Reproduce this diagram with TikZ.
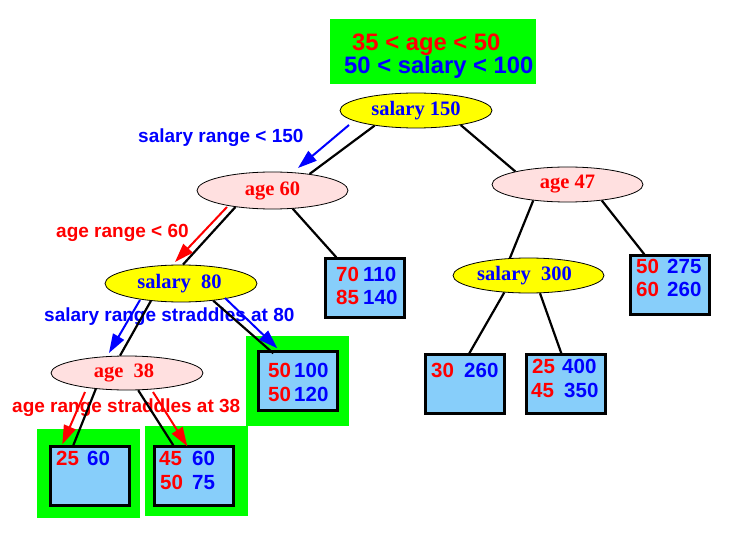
\documentclass[tikz,border=0pt]{standalone}
\usepackage{fontspec}
\setmainfont{Liberation Serif}
\setsansfont{Liberation Sans}
\usetikzlibrary{arrows.meta,shapes.geometric,calc}
\definecolor{hlgreen}{RGB}{0,255,0}
\definecolor{nodeyellow}{RGB}{255,255,0}
\definecolor{nodepink}{RGB}{255,224,224}
\definecolor{leafblue}{RGB}{135,206,250}
\definecolor{txtred}{RGB}{255,0,0}
\definecolor{txtblue}{RGB}{0,0,255}
\begin{document}
\begin{tikzpicture}[x=1pt,y=-1pt,
  ell/.style={ellipse, draw=black, line width=0.8pt, inner sep=0pt,
    font=\rmfamily\bfseries\fontsize{20.5}{22}\selectfont},
  salnode/.style={ell, fill=nodeyellow, text=txtblue},
  agenode/.style={ell, fill=nodepink, text=txtred},
  leaf/.style={draw=black, line width=2.6pt, fill=leafblue, inner sep=0pt,
    minimum width=79pt, minimum height=59pt, anchor=north west},
  hilite/.style={fill=hlgreen, inner sep=0pt, anchor=north west},
  numr/.style={anchor=base west, inner sep=0pt, text=txtred,
    font=\sffamily\bfseries\fontsize{20.5}{24}\selectfont},
  numb/.style={numr, text=txtblue},
  lblr/.style={anchor=base west, inner sep=0pt, text=txtred,
    font=\sffamily\bfseries\fontsize{19}{22}\selectfont},
  lblb/.style={lblr, text=txtblue},
  qr/.style={anchor=base west, inner sep=0pt, text=txtred,
    font=\sffamily\bfseries\fontsize{23.8}{26}\selectfont},
  qb/.style={qr, text=txtblue},
  edge/.style={draw=black, line width=2.2pt},
  redarrow/.style={draw=txtred, line width=2pt, -{Triangle[length=19pt,width=12.5pt]}},
  bluearrow/.style={draw=txtblue, line width=2pt, -{Triangle[length=19pt,width=12.5pt]}}
]
\useasboundingbox (0,0) rectangle (733,537);

% query box
\node[hilite, minimum width=206pt, minimum height=65pt] (query) at (330,19) {};
\node[qr] (q1) at (352,51) {35 < age < 50};
\node[qb] (q2) at (344,74) {50 < salary < 100};

% green highlights
\node[hilite, minimum width=103pt, minimum height=90pt] (hb) at (246,336) {};
\node[hilite, minimum width=103pt, minimum height=89pt] (hc) at (37,429) {};
\node[hilite, minimum width=103pt, minimum height=90pt] (hd) at (145,426) {};

% leaves
\node[leaf] (A) at (324.3,257.3) {};
\node[leaf] (B) at (257.3,350.3) {};
\node[leaf] (C) at (49.3,445.3) {};
\node[leaf] (D) at (153.3,445.3) {};
\node[leaf] (E) at (424.3,353.3) {};
\node[leaf] (F) at (525.3,353.3) {};
\node[leaf] (G) at (629.3,254.3) {};

% leaf contents
\node[numr] (a1) at (336,281) {70};
\node[numb] (a2) at (363,281) {110};
\node[numr] (a3) at (336,304) {85};
\node[numb] (a4) at (363,304) {140};
\node[numr] (b1) at (268,377) {50};
\node[numb] (b2) at (294,377) {100};
\node[numr] (b3) at (268,401) {50};
\node[numb] (b4) at (294,401) {120};
\node[numr] (c1) at (56,465) {25};
\node[numb] (c2) at (87,465) {60};
\node[numr] (d1) at (159,465) {45};
\node[numb] (d2) at (192,465) {60};
\node[numr] (d3) at (160,489) {50};
\node[numb] (d4) at (192,489) {75};
\node[numr] (e1) at (431,377) {30};
\node[numb] (e2) at (464,377) {260};
\node[numr] (f1) at (532,373) {25};
\node[numb] (f2) at (562,373) {400};
\node[numr] (f3) at (531,397) {45};
\node[numb] (f4) at (564,397) {350};
\node[numr] (g1) at (636,273) {50};
\node[numb] (g2) at (667,273) {275};
\node[numr] (g3) at (636,296) {60};
\node[numb] (g4) at (667,296) {260};

% split nodes
\node[salnode, minimum width=152pt, minimum height=35pt] (s150) at (416,110.5) {salary 150};
\node[agenode, minimum width=151pt, minimum height=37pt] (a60) at (272.5,190.5) {age 60};
\node[agenode, minimum width=151pt, minimum height=35pt] (a47) at (567.5,184.5) {age 47};
\node[salnode, minimum width=151pt, minimum height=35pt] (s300) at (528.5,275.5) {\hspace{-8pt}salary\ \ 300};
\node[salnode, minimum width=152pt, minimum height=37pt] (s80) at (181,283.5) {\hspace{-3pt}salary\ \ 80};
\node[agenode, minimum width=152pt, minimum height=34pt] (a38) at (127,373) {\hspace{-6pt}age\ \ 38};

% edge labels
\node[lblb] (l1) at (138,143) {salary range < 150};
\node[lblr] (l2) at (56,238) {age range < 60};
\node[lblb] (l3) at (44,321) {salary range straddles at 80};
\node[lblr] (l4) at (12,412) {age range straddles at 38};

% tree edges
\draw[edge] (s150.200) -- (a60.24);
\draw[edge] (s150.342) -- (a47.166);
\draw[edge] (a60.204) -- (s80.84);
\draw[edge] (a60.318) -- ($(A.north west)+(12,0)$);
\draw[edge] (a47.205) -- (s300.137);
\draw[edge] (a47.335) -- ($(G.north west)+(15,0)$);
\draw[edge] (s300.215) -- ($(E.north west)+(45,0)$);
\draw[edge] (s300.303) -- ($(F.north west)+(36,0)$);
\draw[edge] (s80.210) -- (a38.112);
\draw[edge] (s80.332) -- ($(B.north west)+(16,3)$);
\draw[edge] (a38.207) -- ($(C.north west)+(24,0)$);
\draw[edge] (a38.303) -- ($(D.north west)+(20,0)$);

% search arrows
\draw[bluearrow] ($(s150.center)+(-67,14.5)$) -- ($(a60.center)+(25.5,-22.5)$);
\draw[redarrow] ($(a60.center)+(-45.5,16.5)$) -- ($(s80.center)+(-6,-21.5)$);
\draw[bluearrow] ($(s80.center)+(-41,16.5)$) -- ($(a38.center)+(-18,-20)$);
\draw[bluearrow] ($(s80.center)+(44,14.5)$) -- ($(B.north west)+(20,-2)$);
\draw[redarrow] ($(a38.center)+(-42,19)$) -- ($(C.north west)+(13,-1)$);
\draw[redarrow] ($(a38.center)+(26,19)$) -- ($(D.north west)+(34,1)$);
\end{tikzpicture}
\end{document}
